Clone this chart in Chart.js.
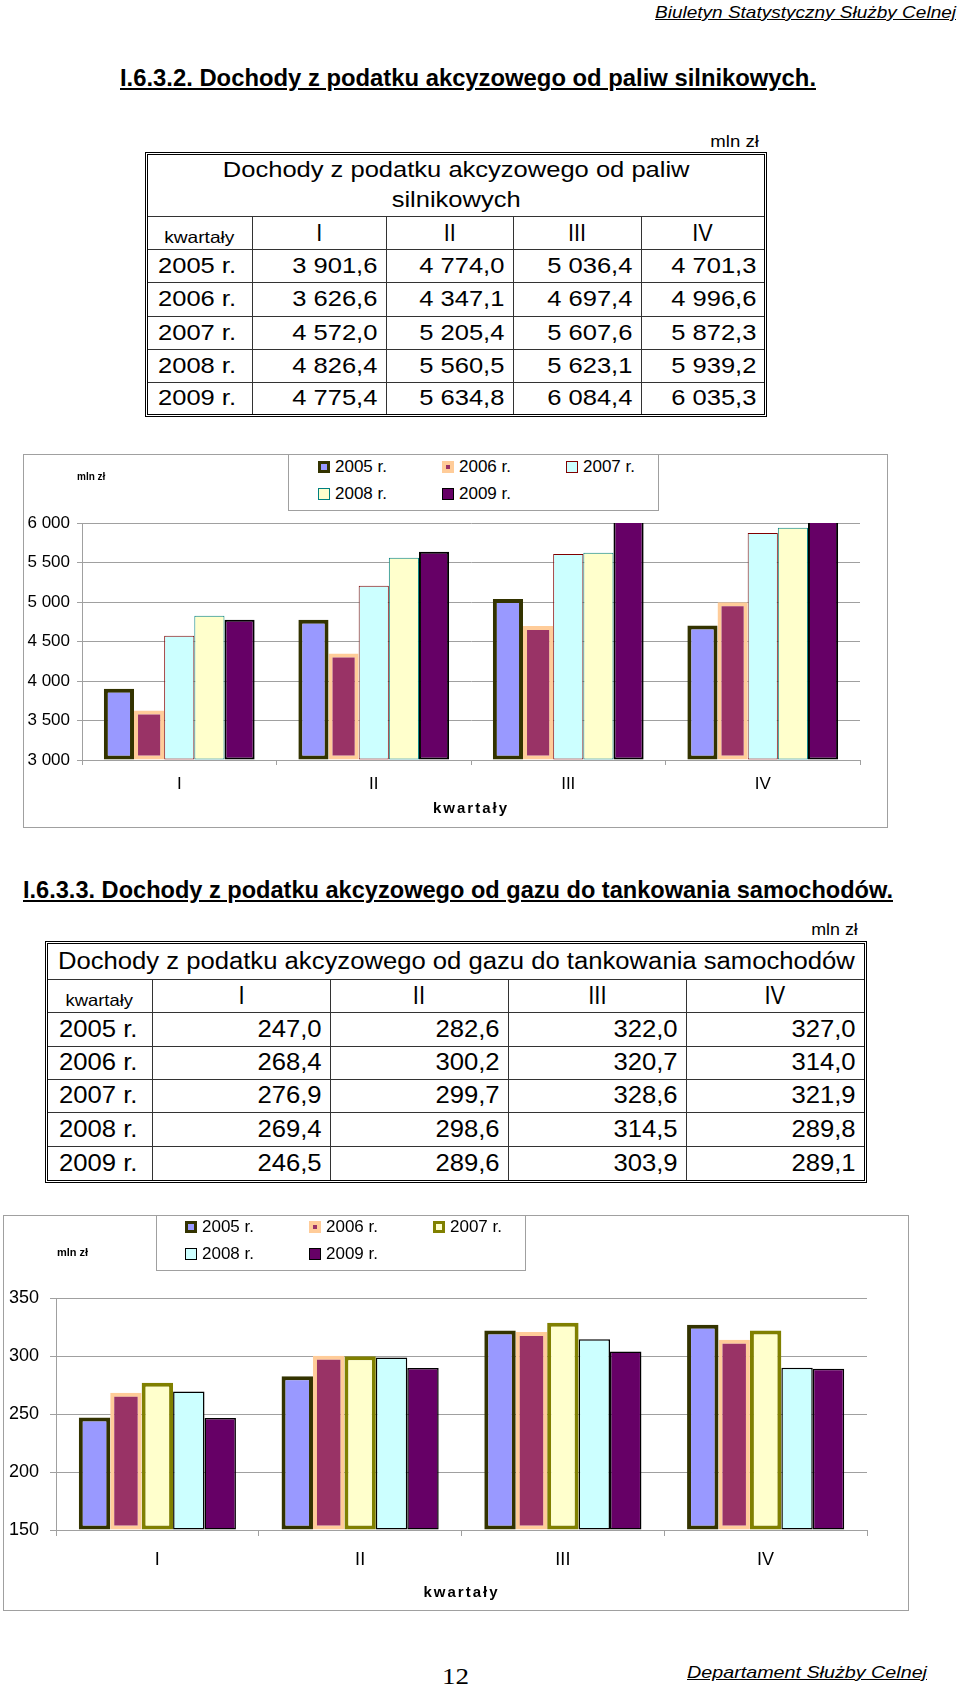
<!DOCTYPE html>
<html lang="pl">
<head>
<meta charset="utf-8">
<script src="https://cdn.jsdelivr.net/npm/chart.js@4.4.1/dist/chart.umd.min.js"></script>
<style>
  body { margin: 0; width: 960px; height: 1689px; position: relative; background: #fff; color: #000;
         font-family: "Liberation Sans", Arial, sans-serif; overflow: hidden; }
  .abs { position: absolute; white-space: nowrap; transform-origin: left center; }
  .head { font-family: "Liberation Sans Narrow", "Liberation Sans", Arial, sans-serif; font-style: italic;
          text-decoration: underline; font-size: 17px; line-height: 20px; }
  .sect { font-family: "Liberation Sans Narrow", "Liberation Sans", Arial, sans-serif; font-weight: bold;
          text-decoration: underline; font-size: 24px; line-height: 26px; }
  .unit { font-size: 16px; line-height: 20px; transform-origin: right center; }
  .tw { position: absolute; border: 3px double #000; }
  .tw table { border-collapse: collapse; table-layout: fixed; }
  .tw td { border: 1px solid #333; padding: 0; white-space: nowrap; overflow: visible; }
  .tw tr:first-child td { border-top: none; }
  .tw tr:last-child td { border-bottom: none; }
  .tw td:first-child { border-left: none; }
  .tw td:last-child { border-right: none; }
  .s { display: inline-block; }
  .frame { position: absolute; border: 1px solid #a0a0a0; box-sizing: border-box; }
  .legend { position: absolute; border: 1px solid #a0a0a0; box-sizing: border-box; background: #fff; }
  .lt { position: absolute; font-size: 17px; line-height: 20px; white-space: nowrap; }
  .mk { position: absolute; box-sizing: border-box; width: 12px; height: 12px; border-style: solid; }
  .ml { position: absolute; font-weight: bold; white-space: nowrap; }
  canvas { position: absolute; }
</style>
</head>
<body>

<div class="abs head" style="left:655px; top:3px;" data-w="301">Biuletyn Statystyczny Służby Celnej</div>
<div class="abs sect" style="left:120px; top:65px;" data-w="696">I.6.3.2. Dochody z podatku akcyzowego od paliw silnikowych.</div>

<div class="abs unit" style="right:201px; top:132px; transform: scaleX(1.16);">mln zł</div>
<div class="tw" id="tab1" style="left:145px; top:152px;"></div>

<div class="frame" style="left:23px; top:454px; width:865px; height:374px;"></div>
<canvas id="fuel" width="864" height="373" style="left:23px; top:454px;"></canvas>
<div class="ml" style="left:77px; top:470px; font-size:10px; line-height:14px;">mln zł</div>
<div class="legend" id="leg1" style="left:288px; top:454px; width:371px; height:57px;"></div>

<div class="abs sect" style="left:23px; top:877px;" data-w="870">I.6.3.3. Dochody z podatku akcyzowego od gazu do tankowania samochodów.</div>

<div class="abs unit" style="right:102px; top:920px; transform: scaleX(1.115);">mln zł</div>
<div class="tw" id="tab2" style="left:45px; top:941px;"></div>

<div class="frame" style="left:3px; top:1215px; width:906px; height:396px;"></div>
<canvas id="gas" width="905" height="395" style="left:3px; top:1215px;"></canvas>
<div class="ml" style="left:57px; top:1244px; font-size:11px; line-height:16px;">mln zł</div>
<div class="legend" id="leg2" style="left:156px; top:1215px; width:370px; height:56px;"></div>

<div class="abs" style="left:442px; top:1662px; font-family:'Liberation Serif','Times New Roman',serif; font-size:24px; line-height:28px;" data-w="27">12</div>
<div class="abs head" style="left:687px; top:1663px;" data-w="240">Departament Służby Celnej</div>

<script>
const years = ["2005 r.", "2006 r.", "2007 r.", "2008 r.", "2009 r."];
const quarters = ["I", "II", "III", "IV"];

// paliwa silnikowe, mln zł
const fuel2005 = [3901.6, 4774.0, 5036.4, 4701.3];
const fuel2006 = [3626.6, 4347.1, 4697.4, 4996.6];
const fuel2007 = [4572.0, 5205.4, 5607.6, 5872.3];
const fuel2008 = [4826.4, 5560.5, 5623.1, 5939.2];
const fuel2009 = [4775.4, 5634.8, 6084.4, 6035.3];
const fuelTicks = [3000, 3500, 4000, 4500, 5000, 5500, 6000];

// gaz do tankowania samochodów, mln zł
const gas2005 = [247.0, 282.6, 322.0, 327.0];
const gas2006 = [268.4, 300.2, 320.7, 314.0];
const gas2007 = [276.9, 299.7, 328.6, 321.9];
const gas2008 = [269.4, 298.6, 314.5, 289.8];
const gas2009 = [246.5, 289.6, 303.9, 289.1];
const gasTicks = [150, 200, 250, 300, 350];

const fuelStyle = {
  fill: ["#9999ff", "#993366", "#ccffff", "#ffffcc", "#660066"],
  edge: ["#333300", "#ffcc99", "#800000", "#008080", "#000000"],
  width: [4, 4, 1, 1, 2],
  mark: [3, 4.5, 1.5, 1.5, 1]
};
const gasStyle = {
  fill: ["#9999ff", "#993366", "#ffffcc", "#ccffff", "#660066"],
  edge: ["#333300", "#ffcc99", "#808000", "#000000", "#000000"],
  width: [4, 4, 4, 1.5, 1.5],
  mark: [3, 4.5, 3, 1.5, 1]
};

function fmt(v) {
  const parts = v.toFixed(1).split(".");
  return parts[0].replace(/\B(?=(\d{3})+(?!\d))/g, " ") + "," + parts[1];
}

function buildTable(el, t) {
  let h = '<table style="width:' + t.cols.reduce((a, b) => a + b, 0) + 'px">';
  h += '<colgroup>' + t.cols.map(w => '<col style="width:' + w + 'px">').join("") + '</colgroup>';
  h += '<tr style="height:' + t.rows[0] + 'px"><td colspan="5" style="text-align:center; font-size:' + t.fs +
       'px; line-height:' + t.titleLh + 'px"><span class="s" style="transform:scaleX(' + t.k + ')">' +
       t.title.join("<br>") + '</span></td></tr>';
  h += '<tr style="height:' + t.rows[1] + 'px"><td style="text-align:center; vertical-align:bottom; font-size:16.5px; padding-bottom:2px">' +
       '<span class="s" style="transform:scaleX(' + t.k + ')">kwartały</span></td>';
  quarters.forEach(q => {
    h += '<td style="text-align:center; font-size:' + t.hs + 'px"><span class="s" style="transform:scaleX(' + t.hk + ')">' + q + '</span></td>';
  });
  h += '</tr>';
  t.series.forEach((s, i) => {
    h += '<tr style="height:' + t.rows[i + 2] + 'px"><td style="font-size:' + t.fs + 'px; padding-left:' + t.pl +
         'px"><span class="s" style="transform:scaleX(' + t.k + '); transform-origin:left center">' + years[i] + '</span></td>';
    s.forEach(v => {
      h += '<td style="text-align:right; font-size:' + t.fs + 'px; padding-right:8px"><span class="s" style="transform:scaleX(' +
           t.k + '); transform-origin:right center">' + fmt(v) + '</span></td>';
    });
    h += '</tr>';
  });
  h += '</table>';
  el.innerHTML = h;
}

buildTable(document.getElementById("tab1"), {
  title: ["Dochody z podatku akcyzowego od paliw", "silnikowych"],
  series: [fuel2005, fuel2006, fuel2007, fuel2008, fuel2009],
  cols: [104, 134, 127, 128, 123], rows: [61, 33, 33, 34, 33, 33, 32],
  fs: 22, k: 1.16, hs: 24, hk: 0.9, titleLh: 30, pl: 10
});
buildTable(document.getElementById("tab2"), {
  title: ["Dochody z podatku akcyzowego od gazu do tankowania samochodów"],
  series: [gas2005, gas2006, gas2007, gas2008, gas2009],
  cols: [104, 178, 178, 178, 178], rows: [35, 33, 34, 33, 33, 34, 34],
  fs: 23, k: 1.115, hs: 25, hk: 0.88, titleLh: 30, pl: 11
});

function buildLegend(el, st, dx, rows) {
  years.forEach((y, i) => {
    const col = i % 3, row = Math.floor(i / 3);
    const mk = document.createElement("div");
    mk.className = "mk";
    mk.style.left = (dx + col * 124) + "px";
    mk.style.top = (rows[row] - 6) + "px";
    mk.style.background = st.fill[i];
    mk.style.borderColor = st.edge[i];
    mk.style.borderWidth = st.mark[i] + "px";
    el.appendChild(mk);
    const tx = document.createElement("div");
    tx.className = "lt";
    tx.style.left = (dx + 17 + col * 124) + "px";
    tx.style.top = (rows[row] - 10) + "px";
    tx.textContent = y;
    el.appendChild(tx);
  });
}
buildLegend(document.getElementById("leg1"), fuelStyle, 29, [12, 39]);
buildLegend(document.getElementById("leg2"), gasStyle, 28, [11, 38]);

// spaced letters for the "kwartały" axis title
const spacedTitle = {
  id: "spacedTitle",
  afterLayout(chart) {
    const sc = chart.scales.x;
    if (sc._spaced) return;
    const orig = sc.drawTitle;
    sc.drawTitle = function () {
      const c = this.ctx;
      c.save();
      c.letterSpacing = "2px";
      orig.call(this);
      c.restore();
    };
    sc._spaced = true;
  }
};

const gridColor = "#a0a0a0";

function makeChart(id, series, ticks, st, g) {
  return new Chart(document.getElementById(id), {
    type: "bar",
    data: {
      labels: quarters,
      datasets: series.map((d, i) => ({
        label: years[i],
        data: d,
        backgroundColor: st.fill[i],
        borderColor: st.edge[i],
        borderWidth: st.width[i],
        borderSkipped: false,
        base: ticks[0],
        categoryPercentage: 0.775,
        barPercentage: 1
      }))
    },
    plugins: [spacedTitle],
    options: {
      responsive: false,
      animation: false,
      layout: { padding: { top: g.top, right: g.right, left: 0, bottom: 0 } },
      plugins: { legend: { display: false }, tooltip: { enabled: false } },
      scales: {
        x: {
          offset: true,
          grid: { offset: true, drawOnChartArea: false, tickLength: g.tick, color: gridColor },
          border: { color: gridColor },
          ticks: { color: "#000", padding: g.xPad, font: { family: "Liberation Sans", size: g.fs } },
          title: {
            display: true, text: "kwartały", color: "#000",
            font: { family: "Liberation Sans", size: 15, weight: "bold" },
            padding: { top: 0, bottom: g.titlePad }
          },
          afterFit: s => { s.height = g.xh; }
        },
        y: {
          min: ticks[0],
          max: ticks[ticks.length - 1],
          afterBuildTicks: s => { s.ticks = ticks.map(v => ({ value: v })); },
          grid: { color: gridColor, tickLength: g.tick },
          border: { color: gridColor },
          ticks: {
            color: "#000", padding: g.yPad, font: { family: "Liberation Sans", size: g.fs },
            callback: v => String(v).replace(/\B(?=(\d{3})+(?!\d))/g, " ")
          },
          afterFit: s => { s.width = g.yw; }
        }
      }
    }
  });
}

makeChart("fuel", [fuel2005, fuel2006, fuel2007, fuel2008, fuel2009], fuelTicks, fuelStyle,
  { top: 69, right: 27, xh: 67, yw: 59, tick: 5, xPad: 9, yPad: 7, fs: 17, titlePad: 9 });
makeChart("gas", [gas2005, gas2006, gas2007, gas2008, gas2009], gasTicks, gasStyle,
  { top: 83, right: 41, xh: 80, yw: 53, tick: 6, xPad: 13, yPad: 11, fs: 18, titlePad: 8 });

document.querySelectorAll("[data-w]").forEach(el => {
  el.style.display = "inline-block";
  const w = el.getBoundingClientRect().width;
  el.style.transform = "scaleX(" + (el.dataset.w / w) + ")";
});
</script>
</body>
</html>
